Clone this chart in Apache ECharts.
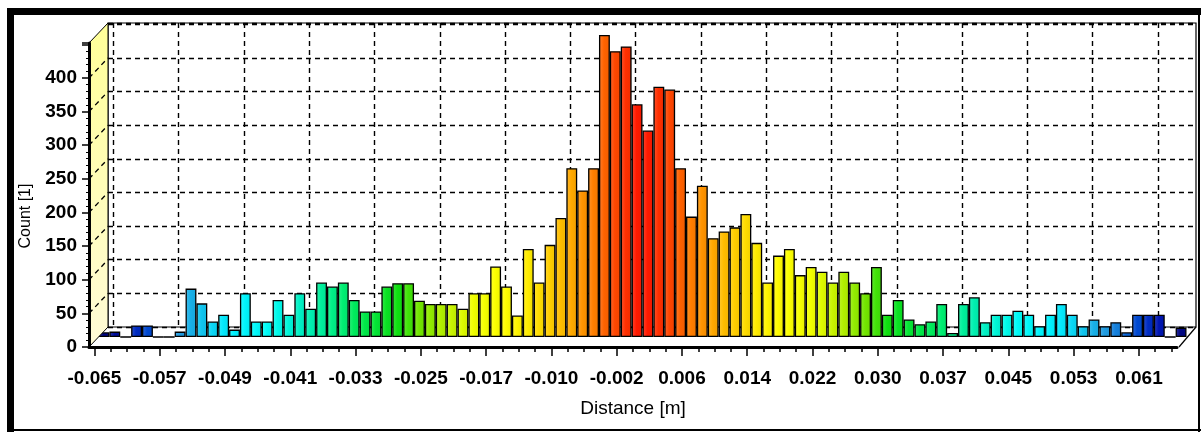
<!DOCTYPE html>
<html>
<head>
<meta charset="utf-8">
<script src="https://cdn.jsdelivr.net/npm/echarts@6/dist/echarts.min.js"></script>
<style>
html,body{margin:0;padding:0;background:#fff;}
#c{width:1201px;height:432px;}
</style>
</head>
<body>
<div id="c"></div>
<script>
// ---- data ----
const counts = [
  7, 8, 0, 17, 17, 0, 0, 8, 72, 50,
  23, 33, 11, 65, 23, 23, 55, 33, 65, 42,
  81, 75, 81, 55, 38, 38, 75, 80, 80, 54,
  49, 49, 49, 42, 65, 65, 105, 75, 32, 131,
  81, 137, 177, 251, 218, 251, 449, 425, 432, 346,
  307, 372, 368, 251, 179, 225, 147, 157, 163, 183,
  140, 81, 121, 131, 92, 104, 97, 81, 97, 81,
  65, 104, 33, 55, 26, 19, 23, 49, 6, 49,
  59, 22, 33, 33, 39, 33, 16, 33, 49, 33,
  16, 26, 16, 22, 7, 33, 33, 33, 0, 14
];
const tickLabels = ['-0.065','-0.057','-0.049','-0.041','-0.033','-0.025','-0.017','-0.010',
  '-0.002','0.006','0.014','0.022','0.030','0.037','0.045','0.053','0.061'];
const firstBinCenter = -0.065;   // metres
const binWidth = 0.0013125;      // metres
const yMax = 452;
const yLabelMax = 400;
const yInterval = 50;
const xTitle = 'Distance [m]';
const yTitle = 'Count [1]';

// ---- styling helpers ----
const colorStops = [
  [0.000,'#ff1000'],[0.003,'#ff4000'],[0.006,'#ff8000'],[0.010,'#ffc000'],
  [0.014,'#ffee00'],[0.017,'#ffff00'],[0.0205,'#f0ff00'],[0.024,'#b8f000'],
  [0.027,'#70e600'],[0.0295,'#10e010'],[0.033,'#00e840'],[0.037,'#00f080'],
  [0.041,'#00f0c0'],[0.045,'#00fcf8'],[0.050,'#00f0ff'],[0.053,'#10c8f0'],
  [0.056,'#2098e0'],[0.059,'#0058d8'],[0.062,'#0018b8'],[0.066,'#000070']
];
function hex2rgb(h){return [parseInt(h.substr(1,2),16),parseInt(h.substr(3,2),16),parseInt(h.substr(5,2),16)];}
function rgbAt(d){
  if (d <= colorStops[0][0]) return hex2rgb(colorStops[0][1]);
  for (let k=1;k<colorStops.length;k++){
    if (d <= colorStops[k][0]){
      const t=(d-colorStops[k-1][0])/(colorStops[k][0]-colorStops[k-1][0]);
      const a=hex2rgb(colorStops[k-1][1]), b=hex2rgb(colorStops[k][1]);
      return a.map((v,j)=>Math.round(v+(b[j]-v)*t));
    }
  }
  return hex2rgb(colorStops[colorStops.length-1][1]);
}
function mix(c, target, t){ return 'rgb(' + c.map((v,j)=>Math.round(v+(target[j]-v)*t)).join(',') + ')'; }
function fillFor(d){
  const c = rgbAt(d);
  return new echarts.graphic.LinearGradient(0,0,1,0,[
    {offset:0, color: mix(c,[255,255,255],0.18)},
    {offset:0.45, color: mix(c,[255,255,255],0.0)},
    {offset:1, color: mix(c,[0,0,0],0.06)}
  ]);
}

// geometry of the pseudo-3D frame (front, middle and back planes)
const G = {
  back:  {left:108, top:23, width:1088, height:304},
  mid:   {left:98.5, top:33, width:1088, height:304},
  front: {left:89, top:43, width:1088, height:304}
};
const nBins = counts.length;
const halfBins = Array.from({length: nBins*2+1}, (_, i) => i);   // half-bin positions
const binCats = counts.map((_, i) => (firstBinCenter + i*binWidth).toFixed(4));
const isMajor = i => i % 12 === 1;
const isMinor = i => i % 3 === 1;
const FONT = 'Liberation Sans, Arial, sans-serif';
const GRIDLINE = {color:'#000', width:1.4, type:[5,4]};

const option = {
  animation: false,
  backgroundColor: '#fff',
  grid: [
    Object.assign({show:true, backgroundColor:'#fff', borderColor:'#000', borderWidth:1.2, z:0}, G.back),
    Object.assign({show:false}, G.mid),
    Object.assign({show:false}, G.front)
  ],
  xAxis: [
    { type:'category', gridIndex:0, position:'bottom', data:halfBins, boundaryGap:false,
      axisLine:{show:false}, axisTick:{show:false}, axisLabel:{show:false},
      splitLine:{show:true, interval:(i)=>isMajor(i), lineStyle:GRIDLINE} },
    { type:'category', gridIndex:1, position:'bottom', data:binCats,
      axisLine:{show:false}, axisTick:{show:false}, axisLabel:{show:false}, splitLine:{show:false} },
    { type:'category', gridIndex:2, position:'bottom', offset:0, data:halfBins, boundaryGap:false, z:6,
      axisLine:{show:true, lineStyle:{color:'#000', width:3}},
      axisTick:{show:true, interval:(i)=>isMajor(i), length:9, lineStyle:{color:'#000', width:1.5}},
      axisLabel:{show:true, interval:(i)=>isMajor(i), margin:22, color:'#000', fontFamily:FONT, fontSize:19, fontWeight:'bold',
        formatter:(v, i) => isMajor(i) ? tickLabels[(i-1)/12] : ''},
      splitLine:{show:false},
      name:xTitle, nameLocation:'middle', nameGap:52,
      nameTextStyle:{color:'#000', fontFamily:FONT, fontSize:19} },
    { type:'category', gridIndex:2, position:'bottom', offset:0, data:halfBins, boundaryGap:false, z:6,
      axisLine:{show:false},
      axisTick:{show:true, interval:(i)=>isMinor(i) && !isMajor(i), length:5, lineStyle:{color:'#000', width:1.5}},
      axisLabel:{show:false}, splitLine:{show:false} }
  ],
  yAxis: [
    { type:'value', gridIndex:0, min:0, max:yMax, interval:yInterval,
      axisLine:{show:false}, axisTick:{show:false}, axisLabel:{show:false},
      splitLine:{show:true, lineStyle:GRIDLINE} },
    { type:'value', gridIndex:1, min:0, max:yMax, interval:yInterval,
      axisLine:{show:false}, axisTick:{show:false}, axisLabel:{show:false}, splitLine:{show:false} },
    { type:'value', gridIndex:2, position:'left', min:0, max:yMax, interval:yInterval, z:6,
      axisLine:{show:true, lineStyle:{color:'#000', width:3}},
      axisTick:{show:true, length:7, lineStyle:{color:'#000', width:1.5}},
      minorTick:{show:true, splitNumber:5, length:3, lineStyle:{color:'#000', width:1}},
      axisLabel:{show:true, margin:12, color:'#000', fontFamily:FONT, fontSize:19, fontWeight:'bold',
        formatter:(v) => (v % yInterval === 0 && v <= yLabelMax ? String(v) : '')},
      splitLine:{show:false},
      name:yTitle, nameLocation:'middle', nameRotate:90, nameGap:55,
      nameTextStyle:{color:'#000', fontFamily:FONT, fontSize:16, padding:[0,42,0,0]} }
  ],
  series: [{
    type:'bar', xAxisIndex:1, yAxisIndex:1, barCategoryGap:'0%', barGap:'0%', silent:true, z:2,
    itemStyle:{borderColor:'#000', borderWidth:1.3},
    data: counts.map((c, i) => ({
      value: c,
      itemStyle: {color: fillFor(Math.abs(firstBinCenter + i*binWidth))}
    }))
  }]
};

// decorative pseudo-3D elements: left side wall, floor edge, outer frame
function yAt(plane, v){ return plane.top + plane.height*(1 - v/yMax); }
const F = G.front, B = G.back;
const wallDashes = [];
for (let v = yInterval; v <= yLabelMax; v += yInterval) {
  wallDashes.push({type:'line', z:4, silent:true,
    shape:{x1:F.left, y1:yAt(F,v), x2:B.left, y2:yAt(B,v)},
    style:{stroke:'#000', lineWidth:1.3, lineDash:[5,4]}});
}
option.graphic = [
  {type:'polygon', z:3, silent:true,
    shape:{points:[[F.left,F.top],[B.left,B.top],[B.left,B.top+B.height],[F.left,F.top+F.height]]},
    style:{fill:new echarts.graphic.LinearGradient(0,0,0,1,[{offset:0,color:'#ffff98'},{offset:1,color:'#fffbd8'}]),
      stroke:'#000', lineWidth:1}},
  ...wallDashes,
  {type:'line', z:4, silent:true,
    shape:{x1:F.left+F.width+2, y1:F.top+F.height, x2:B.left+B.width, y2:B.top+B.height},
    style:{stroke:'#000', lineWidth:1.2}},
  {type:'rect', z:20, silent:true, shape:{x:7, y:8, width:7, height:424}, style:{fill:'#000'}},
  {type:'rect', z:20, silent:true, shape:{x:7, y:8, width:1194, height:7}, style:{fill:'#000'}},
  {type:'rect', z:20, silent:true, shape:{x:1198, y:8, width:2, height:424}, style:{fill:'#000'}},
  {type:'rect', z:20, silent:true, shape:{x:7, y:429, width:1194, height:2}, style:{fill:'#000'}}
];

const chart = echarts.init(document.getElementById('c'), null, {renderer:'canvas'});
chart.setOption(option);
</script>
</body>
</html>
